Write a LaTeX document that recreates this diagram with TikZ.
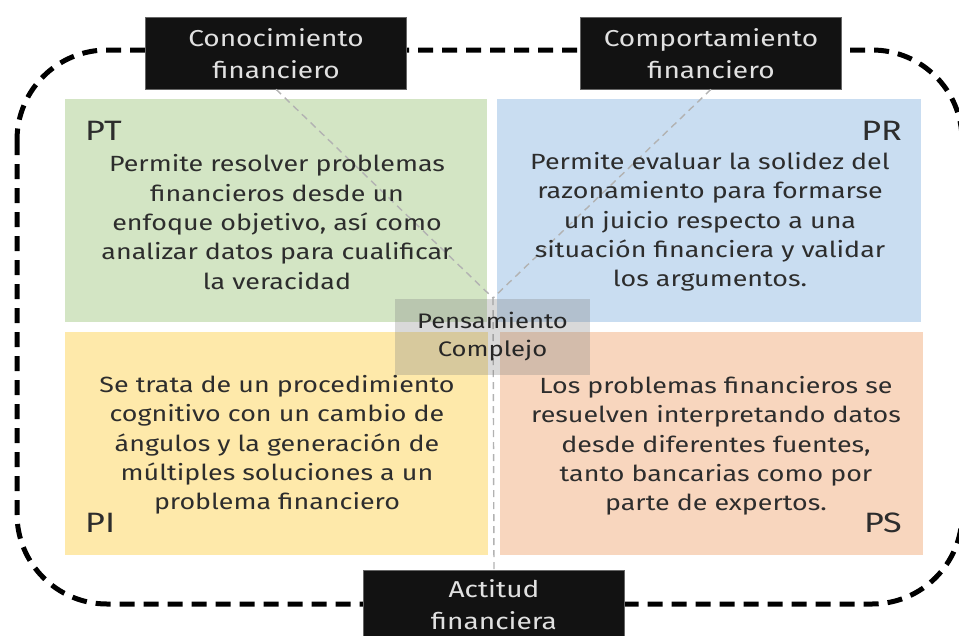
\documentclass[tikz,border=0pt]{standalone}
\usepackage{fontspec}
\setmainfont[FakeStretch=1.22]{Fira Sans}
\usetikzlibrary{positioning}
\definecolor{qgreen}{RGB}{211,229,196}
\definecolor{qblue}{RGB}{201,221,241}
\definecolor{qyellow}{RGB}{254,233,170}
\definecolor{qorange}{RGB}{248,214,190}
\definecolor{txt}{RGB}{45,45,45}
\definecolor{boxblack}{RGB}{18,18,18}
\definecolor{boxtxt}{RGB}{225,225,225}
\tikzset{
  quad/.style={rectangle, draw=none, inner sep=0pt, anchor=north west},
  body/.style={align=center, text=txt, font=\fontsize{22}{29.3}\selectfont, inner sep=0pt},
  tag/.style={text=txt, font=\fontsize{28}{30}\selectfont, inner sep=0pt},
  blackbox/.style={rectangle, fill=boxblack, draw=black!60, line width=0.6pt, minimum width=261pt, minimum height=72pt, inner sep=0pt},
  boxlabel/.style={align=center, text=boxtxt, font=\fontsize{23}{32}\selectfont, inner sep=0pt},
  guide/.style={draw=black!30, line width=1.4pt, dash pattern=on 7pt off 5pt},
  frame/.style={draw=black, line width=5pt, dash pattern=on 15pt off 9pt, rounded corners=90pt}
}
\begin{document}
\begin{tikzpicture}[x=1pt,y=-1pt]
\useasboundingbox (0,0) rectangle (959,635);
% outer dashed frame
\draw[frame] (17,50) rectangle (962,604);
% quadrants
\node[quad, fill=qgreen, minimum width=422pt, minimum height=223pt] (qpt) at (65,99) {};
\node[quad, fill=qblue, minimum width=424pt, minimum height=223pt] (qpr) at (497,99) {};
\node[quad, fill=qyellow, minimum width=423pt, minimum height=223pt] (qpi) at (65,332) {};
\node[quad, fill=qorange, minimum width=423pt, minimum height=223pt] (qps) at (500,332) {};
% black boxes
\node[blackbox] (con) at (276,53) {};
\node[boxlabel] (context) at (276,54) {Conocimiento\\financiero};
\node[blackbox] (com) at (711,53) {};
\node[boxlabel] (comtext) at (711,54) {Comportamiento\\financiero};
\node[blackbox, minimum height=80pt, anchor=north] (act) at (494,570) {};
\node[boxlabel] (acttext) at (494,605) {Actitud\\financiera};
% centre
\coordinate (meet) at (493,298);
\draw[guide] (con.south) -- (meet);
\draw[guide] (com.south) -- (meet);
\draw[guide] (meet) -- (act.north);
% texts
\node[tag, anchor=west] (tpt) at (85,131) {PT};
\node[tag, anchor=east] (tpr) at (902,131) {PR};
\node[tag, anchor=west] (tpi) at (85,523) {PI};
\node[tag, anchor=east] (tps) at (902,523) {PS};
\node[body] (bpt) at (277,222) {Permite resolver problemas\\financieros desde un\\enfoque objetivo, así como\\analizar datos para cualificar\\la veracidad};
\node[body] (bpr) at (710,222) {Permite evaluar la solidez del\\razonamiento para formarse\\un juicio respecto a una\\situación financiera y validar\\los argumentos.};
\node[body] (bpi) at (277,445) {Se trata de un procedimiento\\cognitivo con un cambio de\\ángulos y la generación de\\múltiples soluciones a un\\problema financiero};
\node[body] (bps) at (716,446) {Los problemas financieros se\\resuelven interpretando datos\\desde diferentes fuentes,\\tanto bancarias como por\\parte de expertos.};
% Pensamiento complejo
\node[rectangle, fill=black!50, fill opacity=0.3, minimum width=195pt, minimum height=76pt, inner sep=0pt] (pc) at (492.5,337) {};
\node[align=center, text=black!85, font=\fontsize{21}{28}\selectfont, inner sep=0pt] (pctext) at (pc.center) {Pensamiento\\Complejo};
\end{tikzpicture}
\end{document}
